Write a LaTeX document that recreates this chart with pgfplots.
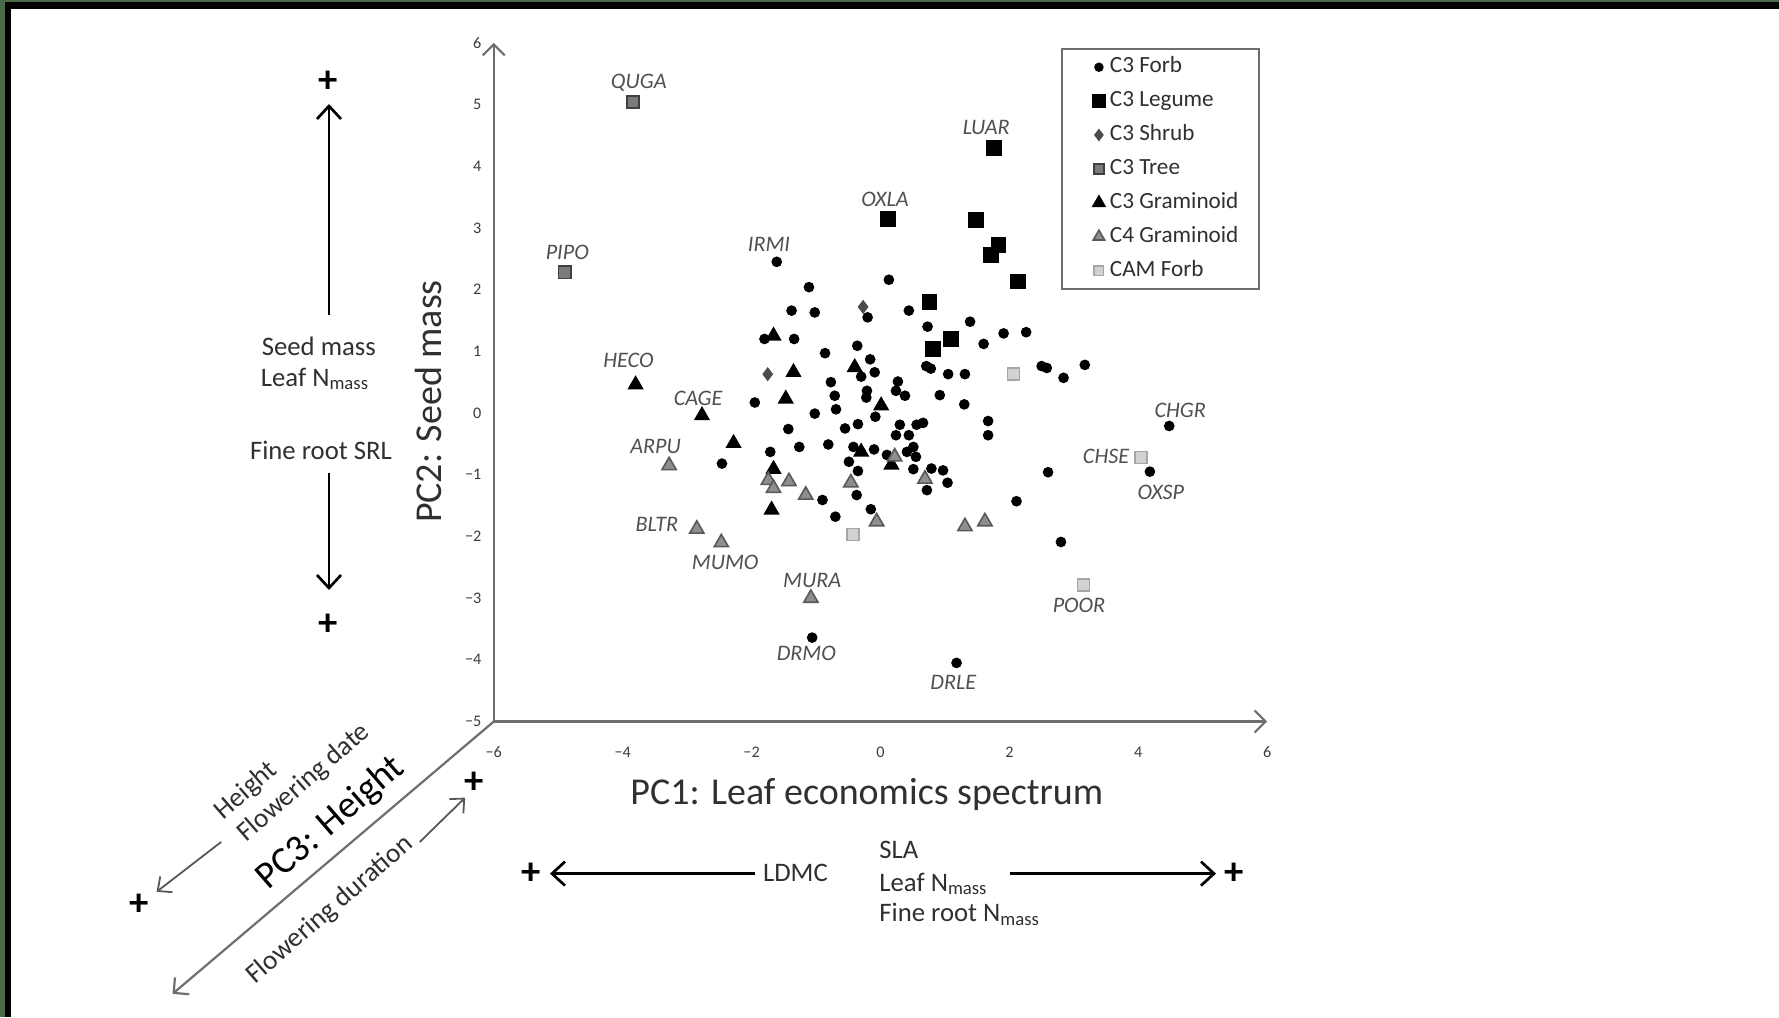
\documentclass[border=0pt]{standalone}
\usepackage{pgfplots}
\pgfplotsset{compat=1.18}
\usepackage{fontspec}
\setmainfont{Carlito}
\usetikzlibrary{arrows.meta}
\definecolor{axisgray}{HTML}{6E6E6E}
\definecolor{ticklab}{HTML}{3C3C3C}
\definecolor{lblgray}{HTML}{505050}
\definecolor{txt}{HTML}{303030}
\definecolor{treefill}{HTML}{7A7A7A}
\definecolor{c4fill}{HTML}{8E8E8E}
\definecolor{camfill}{HTML}{D2D2D2}
\definecolor{camdraw}{HTML}{A6A6A6}
\definecolor{bgtex}{HTML}{4A6A4A}
\tikzset{lbl/.style={font=\fontsize{6.3}{7}\selectfont\itshape, text=lblgray, inner sep=0pt}}
\begin{document}
\begin{tikzpicture}[x=0.1mm,y=-0.1mm]
\useasboundingbox (0,0) rectangle (1779,1017);
\fill[bgtex] (0,0) rectangle (1779,1017);
\fill[black] (5,2) rectangle (1779,1017);
\fill[white] (11,9) rectangle (1779,1017);
\begin{axis}[
  at={(49.38mm,-72.15mm)}, anchor=south west,
  scale only axis, width=77.34mm, height=67.87mm,
  xmin=-6, xmax=6, ymin=-5, ymax=6,
  axis x line*=bottom, axis y line*=left,
  x axis line style={draw=axisgray, line width=0.22mm, -{Straight Barb[length=1.1mm,width=2.2mm]}},
  y axis line style={draw=axisgray, line width=0.22mm, -{Straight Barb[length=1.1mm,width=2.2mm]}},
  xtick={-6,-4,-2,0,2,4,6},
  xticklabels={−6,−4,−2,0,2,4,6},
  ytick={-5,-4,-3,-2,-1,0,1,2,3,4,5,6},
  yticklabels={−5,−4,−3,−2,−1,0,1,2,3,4,5,6},
  major tick length=0pt,
  tick label style={font=\fontsize{4.6}{5.5}\selectfont, text=ticklab},
  xticklabel style={yshift=-1.3mm},
  yticklabel style={xshift=0mm},
  clip=false,
  legend cell align=left,
  legend image code/.code={\path[draw=none,fill=none] (-2.2mm,0mm) -- (1.1mm,0mm); \draw[#1] plot coordinates {(0mm,0mm)};},
  legend image post style={every mark/.append style={scale=0.8}},
  legend style={at={(0.7333,0.9928)}, anchor=north west, draw=axisgray, line width=0.2mm,
    font=\fontsize{6.6}{7.5}\selectfont, text=txt, inner xsep=1.5mm, inner ysep=0.8mm,
    row sep=1.29mm, nodes={inner sep=0pt, text height=1.6mm, text depth=0.5mm, anchor=west}},
]
% C3 Forb
\addplot[only marks, mark=*, mark size=0.46mm, mark options={fill=black, draw=black}] coordinates {
(-1.61,2.45) (-1.11,2.04) (0.13,2.16) (-1.38,1.66) (-1.02,1.63) (-0.20,1.55) (0.44,1.66)
(-1.80,1.20) (-1.34,1.20) (-0.36,1.09) (-0.86,0.97) (-0.16,0.87) (-0.30,0.59) (-0.09,0.66)
(-0.77,0.50) (0.27,0.51) (-1.95,0.17) (-0.71,0.28) (-0.21,0.36) (-0.22,0.25) (0.24,0.36)
(0.38,0.28) (-0.69,0.06) (-1.02,-0.01) (-0.08,-0.06)
(0.73,1.40) (1.39,1.48) (1.91,1.29) (2.26,1.31) (1.60,1.12) (0.71,0.76) (0.78,0.72)
(1.05,0.63) (1.31,0.63) (2.50,0.76) (2.58,0.73) (2.84,0.57) (3.17,0.78) (0.92,0.29) (1.30,0.14)
(0.30,-0.19) (-1.43,-0.26) (-0.55,-0.25) (-0.35,-0.18) (0.24,-0.36) (0.44,-0.36)
(-1.26,-0.55) (-0.81,-0.51) (-1.71,-0.63) (-0.42,-0.55) (-0.10,-0.59) (0.10,-0.68)
(0.41,-0.63) (0.51,-0.55) (0.51,-0.91) (-2.46,-0.82) (-0.49,-0.79) (-0.35,-0.94)
(-0.37,-1.33) (-0.90,-1.41) (-0.70,-1.68) (-0.15,-1.56)
(0.56,-0.19) (0.66,-0.16) (1.67,-0.13) (1.67,-0.36) (0.55,-0.71) (0.79,-0.90) (0.97,-0.93)
(1.04,-1.13) (0.72,-1.25) (2.60,-0.96) (2.11,-1.43) (2.80,-2.09)
(4.48,-0.21) (4.18,-0.95) (-1.06,-3.64) (1.18,-4.05)
};
\addlegendentry{C3 Forb}
% C3 Legume
\addplot[only marks, mark=square*, mark size=0.72mm, mark options={fill=black, draw=black}] coordinates {
(1.76,4.29) (0.12,3.14) (1.48,3.13) (1.83,2.72) (1.72,2.56) (2.13,2.13) (0.76,1.80) (1.10,1.20) (0.81,1.04)
};
\addlegendentry{C3 Legume}
% C3 Shrub
\addplot[only marks, mark=diamond*, mark size=0.6mm, mark options={fill=black!70, draw=black!70}] coordinates {
(-0.27,1.72) (-1.75,0.63)
};
\addlegendentry{C3 Shrub}
% C3 Tree
\addplot[only marks, mark=square*, mark size=0.62mm, mark options={fill=treefill, draw=black!75, line width=0.15mm}] coordinates {
(-3.84,5.04) (-4.90,2.28)
};
\addlegendentry{C3 Tree}
% C3 Graminoid
\addplot[only marks, mark=triangle*, mark size=0.8mm, mark options={fill=black, draw=black}] coordinates {
(-1.66,1.25) (-1.35,0.66) (-0.40,0.74) (-1.47,0.23) (0.01,0.12) (-2.28,-0.49) (-0.30,-0.63)
(0.17,-0.84) (-1.66,-0.91) (-1.69,-1.57) (-3.80,0.46) (-2.77,-0.04)
};
\addlegendentry{C3 Graminoid\hspace*{0.6mm}}
% C4 Graminoid
\addplot[only marks, mark=triangle*, mark size=0.82mm, mark options={fill=c4fill, draw=black!65, line width=0.16mm}] coordinates {
(0.22,-0.71) (-1.74,-1.09) (-1.42,-1.11) (-1.66,-1.22) (-0.46,-1.13) (-1.16,-1.33) (-0.06,-1.76)
(0.69,-1.07) (1.31,-1.84) (1.62,-1.76) (-3.28,-0.85) (-2.85,-1.88) (-2.47,-2.10) (-1.08,-3.00)
};
\addlegendentry{C4 Graminoid\hspace*{0.6mm}}
% CAM Forb
\addplot[only marks, mark=square*, mark size=0.6mm, mark options={fill=camfill, draw=camdraw, line width=0.15mm}] coordinates {
(2.06,0.63) (-0.43,-1.97) (4.04,-0.72) (3.15,-2.79)
};
\addlegendentry{CAM Forb}
% species labels
\node[lbl] at (axis cs:-3.75,5.35) {QUGA};
\node[lbl] at (axis cs:-4.86,2.61) {PIPO};
\node[lbl] at (axis cs:1.64,4.62) {LUAR};
\node[lbl] at (axis cs:0.07,3.46) {OXLA};
\node[lbl] at (axis cs:-1.73,2.74) {IRMI};
\node[lbl] at (axis cs:-3.91,0.85) {HECO};
\node[lbl] at (axis cs:-2.83,0.24) {CAGE};
\node[lbl] at (axis cs:-3.49,-0.55) {ARPU};
\node[lbl] at (axis cs:-3.47,-1.80) {BLTR};
\node[lbl] at (axis cs:-2.41,-2.42) {MUMO};
\node[lbl] at (axis cs:-1.06,-2.72) {MURA};
\node[lbl] at (axis cs:-1.15,-3.90) {DRMO};
\node[lbl] at (axis cs:1.13,-4.36) {DRLE};
\node[lbl] at (axis cs:4.65,0.04) {CHGR};
\node[lbl] at (axis cs:3.50,-0.70) {CHSE};
\node[lbl] at (axis cs:4.35,-1.29) {OXSP};
\node[lbl] at (axis cs:3.08,-3.11) {POOR};
\end{axis}
% axis titles
\node[font=\fontsize{10.8}{12}\selectfont, text=txt] at (866.8,794.2) {PC1: Leaf economics spectrum};
\node[font=\fontsize{10.8}{12}\selectfont, text=txt, rotate=90] at (428.9,401.6) {PC2: Seed mass};
\node[font=\fontsize{10.8}{12}\selectfont, text=black, rotate=41] at (331,823) {PC3: Height};
% diagonal
\draw[axisgray, line width=0.22mm, -{Straight Barb[length=1.1mm,width=2.2mm]}] (493.8,721.5) -- (172.5,993.9);
\draw[axisgray!80!black, line width=0.18mm, -{Straight Barb[length=1.1mm,width=2.0mm]}] (221.2,841.9) -- (156.6,891.8);
\draw[axisgray!80!black, line width=0.18mm, -{Straight Barb[length=1.1mm,width=2.0mm]}] (419.8,841.9) -- (465.2,797.6);
\node[font=\fontsize{7.8}{9}\selectfont, text=txt, rotate=41] at (246.2,790.8) {Height};
\node[font=\fontsize{7.8}{9}\selectfont, text=txt, rotate=41] at (304,782.9) {Flowering date};
\node[font=\fontsize{7.8}{9}\selectfont, text=txt, rotate=41] at (330,910) {Flowering duration};
\node[font=\fontsize{11}{12}\selectfont\bfseries] at (139.6,904.3) {+};
\node[font=\fontsize{11}{12}\selectfont\bfseries] at (474.3,782.9) {+};
% left annotations
\node[font=\fontsize{11}{12}\selectfont\bfseries] at (327.9,81.7) {+};
\draw[black, line width=0.27mm, -{Straight Barb[length=1.3mm,width=2.4mm]}] (329,315) -- (329,104);
\node[font=\fontsize{7.6}{9}\selectfont, text=txt] at (318.8,346) {Seed mass};
\node[font=\fontsize{7.6}{9}\selectfont, text=txt] at (315.4,379) {Leaf N\textsubscript{mass}};
\node[font=\fontsize{7.6}{9}\selectfont, text=txt] at (321,450.4) {Fine root SRL};
\draw[black, line width=0.27mm, -{Straight Barb[length=1.3mm,width=2.4mm]}] (329,473) -- (329,590);
\node[font=\fontsize{11}{12}\selectfont\bfseries] at (327.9,625.2) {+};
% bottom annotations
\node[font=\fontsize{11}{12}\selectfont\bfseries] at (531,873.6) {+};
\draw[black, line width=0.27mm, -{Straight Barb[length=1.3mm,width=2.4mm]}] (754.5,873.6) -- (550,873.6);
\node[font=\fontsize{7.6}{9}\selectfont, text=txt] at (795.4,872.5) {LDMC};
\node[font=\fontsize{7.6}{9}\selectfont, text=txt, anchor=west] at (867,849.8) {SLA};
\node[font=\fontsize{7.6}{9}\selectfont, text=txt, anchor=west] at (867,883.8) {Leaf N\textsubscript{mass}};
\node[font=\fontsize{7.6}{9}\selectfont, text=txt, anchor=west] at (867,914.5) {Fine root N\textsubscript{mass}};
\draw[black, line width=0.27mm, -{Straight Barb[length=1.3mm,width=2.4mm]}] (1009.8,873.6) -- (1216,873.6);
\node[font=\fontsize{11}{12}\selectfont\bfseries] at (1234.4,873.6) {+};
\end{tikzpicture}
\end{document}
